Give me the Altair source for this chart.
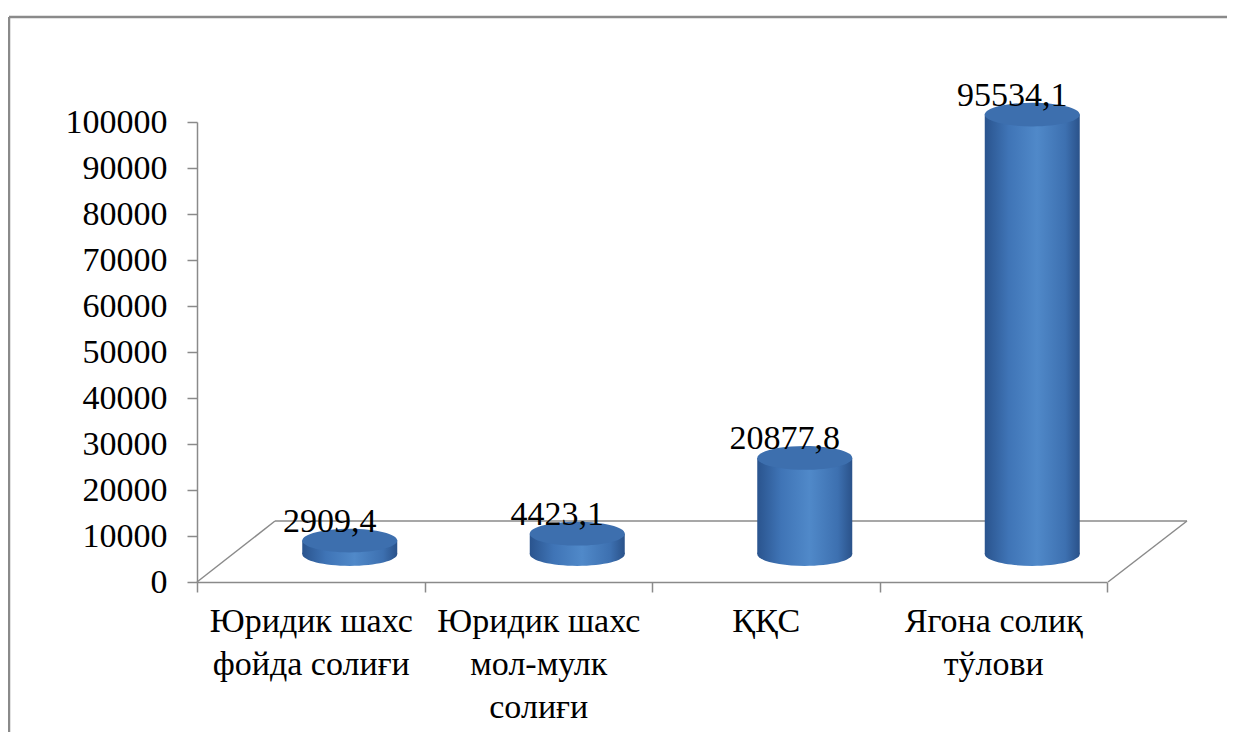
import altair as alt
import pandas as pd

categories = [
    "Юридик шахс\nфойда солиғи",
    "Юридик шахс\nмол-мулк\nсолиғи",
    "ҚҚС",
    "Ягона солиқ\nтўлови",
]
values = [2909.4, 4423.1, 20877.8, 95534.1]
y_ticks = [0, 10000, 20000, 30000, 40000, 50000, 60000, 70000, 80000, 90000, 100000]

df = pd.DataFrame({"cat": categories, "value": values})
df["zero"] = 0

FONT = "Liberation Serif"
GRAY = "#8a8a8a"
DX = 39      # depth shift of the cylinders (pixels)
DY = -28

body_grad = alt.LinearGradient(
    gradient="linear", x1=0, x2=1, y1=0, y2=0,
    stops=[
        alt.GradientStop(color="#2a548e", offset=0),
        alt.GradientStop(color="#3f74b6", offset=0.25),
        alt.GradientStop(color="#5089c9", offset=0.55),
        alt.GradientStop(color="#3d70b0", offset=0.85),
        alt.GradientStop(color="#2a528a", offset=1),
    ],
)
ellipse = ("M -1 0 C -1 -0.138 -0.552 -0.25 0 -0.25 C 0.552 -0.25 1 -0.138 1 0 "
           "C 1 0.138 0.552 0.25 0 0.25 C -0.552 0.25 -1 0.138 -1 0 Z")

x_enc = alt.X(
    "cat:N", sort=categories, title=None,
    scale=alt.Scale(paddingInner=0, paddingOuter=0),
    axis=alt.Axis(
        labelAngle=0, labelFont=FONT, labelFontSize=34, labelColor="#000000",
        labelLineHeight=43, labelPadding=12, labelExpr="split(datum.label, '\\n')",
        tickBand="extent", tickSize=10, tickColor=GRAY, domainColor=GRAY,
        domainWidth=1.5, tickWidth=1.5, labelLimit=400,
    ),
)
y_scale = alt.Scale(domain=[0, 100000], nice=False)

base = alt.Chart(df)

def seg(x1, y1, x2, y2):
    return alt.Chart(df.head(1)).mark_rule(color=GRAY, strokeWidth=1.5).encode(
        x=alt.value(x1), y=alt.value(y1), x2=alt.value(x2), y2=alt.value(y2))

floor = seg(78, 399, 990, 399) + seg(0, 460, 78, 399) + seg(911, 460, 990, 399)
frame = (alt.Chart(df.head(1)).mark_rule(color=GRAY, strokeWidth=2.5).encode(
            x=alt.value(-188), y=alt.value(-105), y2=alt.value(800))
         + alt.Chart(df.head(1)).mark_rule(color=GRAY, strokeWidth=2.5).encode(
            x=alt.value(-188), x2=alt.value(1200), y=alt.value(-105)))

axes_layer = base.mark_bar(opacity=0).encode(
    x=x_enc,
    y=alt.Y("value:Q", scale=y_scale, title=None,
            axis=alt.Axis(values=y_ticks, format="d", grid=False, labelFont=FONT,
                          labelFontSize=34, labelColor="#000000", labelPadding=20,
                          tickSize=10, tickColor=GRAY, domainColor=GRAY,
                          domainWidth=1.5, tickWidth=1.5)),
)

bottom_cap = base.mark_point(shape=ellipse, size=9025, filled=True, fill=body_grad,
                             opacity=1, strokeWidth=0, xOffset=DX, yOffset=DY).encode(
    x=alt.X("cat:N", sort=categories), y=alt.Y("zero:Q", scale=y_scale))

body = base.mark_bar(size=95, fill=body_grad, xOffset=DX, x2Offset=DX,
                     yOffset=DY, y2Offset=DY).encode(
    x=alt.X("cat:N", sort=categories),
    y=alt.Y("value:Q", scale=y_scale), y2="zero:Q")

top_cap = base.mark_point(shape=ellipse, size=9025, filled=True, fill="#3d6fae",
                          opacity=1, strokeWidth=0, xOffset=DX, yOffset=DY).encode(
    x=alt.X("cat:N", sort=categories), y=alt.Y("value:Q", scale=y_scale))

labels = base.transform_calculate(
    lab="replace(format(datum.value, '.1f'), '.', ',')"
).mark_text(font=FONT, fontSize=34, color="#000000", baseline="alphabetic",
            dx=19, dy=-37).encode(
    x=alt.X("cat:N", sort=categories), y=alt.Y("value:Q", scale=y_scale),
    text="lab:N")

chart = alt.layer(frame, axes_layer, floor, bottom_cap, body, top_cap, labels).properties(
    width=910, height=460, autosize="none",
    padding={"left": 189, "top": 114, "right": 120, "bottom": 150},
).configure_view(strokeWidth=0)

chart.save("out.html", embed_options={"renderer": "svg", "actions": False})
